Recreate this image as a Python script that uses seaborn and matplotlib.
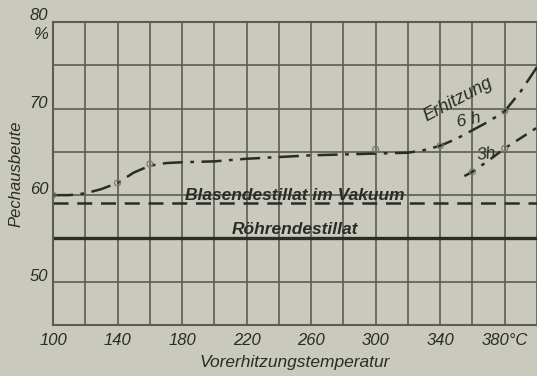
import matplotlib
matplotlib.use('Agg')
import matplotlib.pyplot as plt
import matplotlib.transforms as mtransforms
import seaborn as sns

# Pechausbeute (%) vs Vorerhitzungstemperatur (°C)
temp_6h = [100, 110, 120, 130, 140, 150, 160, 170, 180, 200, 220, 240, 260,
           280, 300, 320, 330, 340, 350, 360, 370, 380, 390, 400]
yield_6h = [60.0, 60.0, 60.2, 60.7, 61.4, 62.6, 63.4, 63.7, 63.8, 63.9, 64.2,
            64.4, 64.6, 64.7, 64.8, 64.9, 65.2, 65.7, 66.5, 67.5, 68.5, 69.7,
            72.0, 74.8]
temp_3h = [355, 360, 370, 380, 390, 400]
yield_3h = [62.2, 62.7, 64.0, 65.4, 66.6, 67.8]

# small measuring points
pts_6h_t = [100, 140, 160, 300, 340, 380]
pts_6h_y = [60.0, 61.4, 63.6, 65.3, 65.7, 69.7]
pts_3h_t = [360, 380]
pts_3h_y = [62.7, 65.4]

blasen_level = 59.1   # Blasendestillat im Vakuum
roehren_level = 55.0  # Röhrendestillat

x_labels = {100: '100', 140: '140', 180: '180', 220: '220', 260: '260',
            300: '300', 340: '340', 380: '380°C'}
y_labels = [50, 60, 70]

paper = '#c9c9bd'
ink = '#2b2b27'
grid_c = '#5c5c54'

sns.set_style('white', {'axes.facecolor': paper, 'figure.facecolor': paper})
plt.rcParams['font.family'] = ['Liberation Sans', 'DejaVu Sans']

fig = plt.figure(figsize=(5.37, 3.76), dpi=100)
ax = fig.add_axes([0.0987, 0.1356, 0.9013, 0.806])

ax.set_xlim(100, 400)
ax.set_ylim(45, 80)
ax.set_xticks(range(100, 401, 20))
ax.set_yticks(range(45, 81, 5))
ax.grid(True, color=grid_c, linewidth=1.2)
ax.set_axisbelow(True)
for s in ['left', 'bottom', 'top']:
    ax.spines[s].set_color(grid_c)
    ax.spines[s].set_linewidth(1.5)
ax.spines['right'].set_visible(False)
ax.tick_params(length=0, pad=6)
ax.set_xticklabels([x_labels.get(t, '') for t in range(100, 401, 20)],
                   fontsize=12, fontstyle='italic', color=ink)
ax.set_yticklabels([])

# curves
sns.lineplot(x=temp_6h, y=yield_6h, ax=ax, color=ink, linewidth=1.8,
             linestyle=(0, (8, 3, 1.5, 3)))
sns.lineplot(x=temp_3h, y=yield_3h, ax=ax, color=ink, linewidth=1.8,
             linestyle=(0, (5, 3, 1.5, 3)))
sns.scatterplot(x=pts_6h_t + pts_3h_t, y=pts_6h_y + pts_3h_y, ax=ax, s=18,
                facecolor='none', edgecolor='#7a7a72', linewidth=0.9, zorder=4)
ax.axhline(blasen_level, color=ink, linewidth=1.8, linestyle=(0, (6, 3.5)))
ax.axhline(roehren_level, color=ink, linewidth=2.4)

# text labels
lab = dict(fontstyle='italic', fontweight='bold', color=ink)
ax.text(250, 60.0, 'Blasendestillat im Vakuum', ha='center', va='center', fontsize=12.5, **lab)
ax.text(250, 56.0, 'Röhrendestillat', ha='center', va='center', fontsize=12.5, **lab)
ax.text(351, 71.0, 'Erhitzung', ha='center', va='center', fontsize=13, rotation=28,
        fontstyle='italic', color=ink)
ax.text(358, 68.7, '6 h', ha='center', va='center', fontsize=12.5, rotation=12,
        fontstyle='italic', color=ink)
ax.text(369, 64.7, '3h', ha='center', va='center', fontsize=12.5, rotation=8,
        fontstyle='italic', color=ink)

# y tick labels sit a little above the lines
trans = mtransforms.blended_transform_factory(ax.transAxes, ax.transData)
for v in y_labels:
    ax.text(-0.01, v + 0.6, str(v), transform=trans, ha='right', va='center',
            fontsize=12, fontstyle='italic', color=ink)
ax.text(-0.01, 80.8, '80', transform=trans, ha='right', va='center',
        fontsize=12, fontstyle='italic', color=ink, clip_on=False)
ax.text(-0.01, 78.5, '%', transform=trans, ha='right', va='center',
        fontsize=12, fontstyle='italic', color=ink, clip_on=False)

ax.set_xlabel('Vorerhitzungstemperatur', fontsize=12.5, fontstyle='italic', color=ink, labelpad=5)
ax.set_ylabel('Pechausbeute', fontsize=12, fontstyle='italic', color=ink, labelpad=15)

fig.savefig('out.png', dpi=100, facecolor=paper)
